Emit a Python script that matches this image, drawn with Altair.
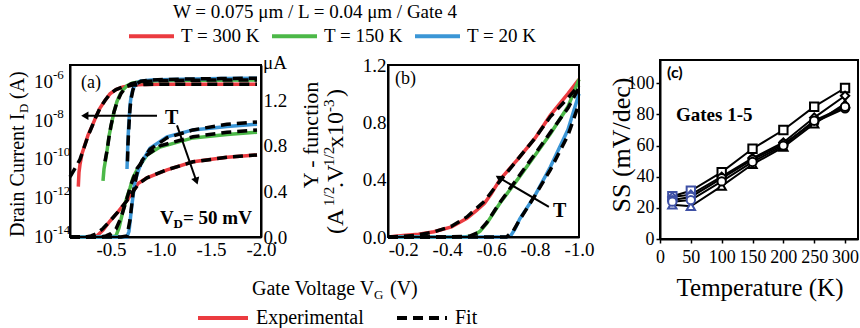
import altair as alt
import pandas as pd

SERIF = "Liberation Serif"
SANS = "Lato"
RED, GREEN, BLUE = "#eb3b40", "#4cb848", "#3b96d6"
NAVY = "#3e50a5"

# ------------------------------------------------------------------ data
TITLE = "W = 0.075 μm / L = 0.04 μm / Gate 4"
T_LABELS = ["T = 300 K", "T = 150 K", "T = 20 K"]
T_COLORS = [RED, GREEN, BLUE]
KIND_LABELS = ["Experimental", "Fit"]

# (a) drain current, log scale (A)
a_log_300_vg = [-0.173, -0.18, -0.19, -0.21, -0.24, -0.27, -0.31, -0.35, -0.39, -0.44, -0.49, -0.55, -0.62, -0.72, -0.82, -1.0, -1.3, -1.6, -1.96]
a_log_300_id = [4.0e-12, 2.2e-11, 5.5e-11, 2.0e-10, 5.9e-10, 1.8e-9, 5.1e-9, 1.6e-8, 4.5e-8, 1.1e-7, 2.4e-7, 4.0e-7, 5.5e-7, 6.8e-7, 7.4e-7, 7.6e-7, 7.6e-7, 7.6e-7, 7.6e-7]
a_log_300_fit_vg = [-0.09, -0.14, -0.19, -0.23, -0.27, -0.31, -0.35, -0.39, -0.44, -0.49, -0.55, -0.62, -0.72, -0.85, -1.2, -1.6, -1.96]
a_log_300_fit_id = [1.26e-11, 3.5e-11, 1.0e-10, 4.0e-10, 1.6e-9, 5.0e-9, 1.6e-8, 4.5e-8, 1.1e-7, 2.4e-7, 4.0e-7, 5.5e-7, 6.8e-7, 7.4e-7, 7.6e-7, 7.6e-7, 7.6e-7]
a_log_150_vg = [-0.42, -0.43, -0.45, -0.46, -0.48, -0.51, -0.53, -0.56, -0.59, -0.62, -0.66, -0.71, -0.8, -1.0, -1.4, -1.96]
a_log_150_id = [7.9e-12, 3.2e-11, 1.26e-10, 2.7e-10, 1.6e-9, 9.1e-9, 2.8e-8, 9.8e-8, 2.2e-7, 3.9e-7, 6.3e-7, 8.5e-7, 1.05e-6, 1.17e-6, 1.23e-6, 1.26e-6]
a_log_150_fit_vg = [-0.44, -0.46, -0.48, -0.5, -0.53, -0.56, -0.6, -0.65, -0.7, -0.8, -1.0, -1.4, -1.96]
a_log_150_fit_id = [7.9e-11, 2.8e-10, 1.4e-9, 5.6e-9, 2.8e-8, 8.9e-8, 2.5e-7, 5.4e-7, 7.9e-7, 1.05e-6, 1.17e-6, 1.23e-6, 1.26e-6]
a_log_20_vg = [-0.66, -0.665, -0.67, -0.68, -0.69, -0.70, -0.72, -0.75, -0.79, -0.9, -1.2, -1.6, -1.96]
a_log_20_id = [3.2e-11, 2.0e-10, 1.26e-9, 1.0e-8, 6.3e-8, 1.6e-7, 4.5e-7, 7.9e-7, 1.07e-6, 1.26e-6, 1.38e-6, 1.48e-6, 1.55e-6]
a_log_20_fit_vg = [-0.665, -0.67, -0.68, -0.69, -0.70, -0.72, -0.75, -0.8, -0.9, -1.2, -1.6, -1.96]
a_log_20_fit_id = [7.9e-11, 6.3e-10, 6.3e-9, 4.0e-8, 1.26e-7, 4.0e-7, 7.6e-7, 1.07e-6, 1.26e-6, 1.38e-6, 1.48e-6, 1.55e-6]

# (a) drain current, linear scale (uA)
a_lin_300_vg = [-0.09, -0.3, -0.36, -0.42, -0.49, -0.57, -0.66, -0.72, -0.77, -0.86, -1.06, -1.32, -1.66, -1.96]
a_lin_300_ua = [0.0, 0.0, 0.01, 0.06, 0.14, 0.22, 0.32, 0.40, 0.47, 0.52, 0.59, 0.66, 0.70, 0.72]
a_lin_300_fit_vg = [-0.09, -0.25, -0.3, -0.36, -0.42, -0.49, -0.57, -0.66, -0.72, -0.78, -0.86, -1.06, -1.32, -1.66, -1.96]
a_lin_300_fit_ua = [0.0, 0.0, 0.01, 0.03, 0.075, 0.14, 0.22, 0.32, 0.40, 0.47, 0.52, 0.59, 0.66, 0.70, 0.72]
a_lin_150_vg = [-0.09, -0.5, -0.55, -0.58, -0.62, -0.66, -0.69, -0.72, -0.76, -0.86, -0.99, -1.32, -1.66, -1.96]
a_lin_150_ua = [0.0, 0.0, 0.01, 0.08, 0.23, 0.35, 0.43, 0.52, 0.59, 0.72, 0.79, 0.87, 0.90, 0.92]
a_lin_150_fit_vg = [-0.09, -0.4, -0.45, -0.5, -0.55, -0.6, -0.65, -0.7, -0.76, -0.86, -0.99, -1.32, -1.66, -1.96]
a_lin_150_fit_ua = [0.0, 0.0, 0.01, 0.03, 0.07, 0.17, 0.31, 0.46, 0.60, 0.72, 0.80, 0.88, 0.92, 0.94]
a_lin_20_vg = [-0.09, -0.66, -0.68, -0.71, -0.74, -0.78, -0.81, -0.89, -1.06, -1.32, -1.66, -1.96]
a_lin_20_ua = [0.0, 0.0, 0.05, 0.29, 0.49, 0.60, 0.66, 0.78, 0.88, 0.94, 0.97, 0.99]
a_lin_20_fit_vg = [-0.09, -0.6, -0.66, -0.69, -0.72, -0.76, -0.81, -0.89, -1.06, -1.32, -1.66, -1.96]
a_lin_20_fit_ua = [0.0, 0.0, 0.01, 0.15, 0.38, 0.56, 0.67, 0.77, 0.87, 0.94, 0.99, 1.01]

# (b) Y-function (A^1/2 V^1/2 x1e-3)
b_300_vg = [-0.131, -0.2, -0.27, -0.34, -0.42, -0.49, -0.53, -0.57, -0.6, -0.64, -0.72, -0.8, -0.87, -0.95, -1.0]
b_300_y = [0.0, 0.01, 0.02, 0.037, 0.07, 0.13, 0.18, 0.235, 0.3, 0.40, 0.54, 0.69, 0.85, 1.0, 1.1]
b_300_fit_vg = [-0.131, -0.25, -0.34, -0.42, -0.49, -0.57, -0.64, -0.72, -0.8, -0.87, -0.95, -1.0]
b_300_fit_y = [0.0, 0.01, 0.035, 0.075, 0.14, 0.25, 0.39, 0.54, 0.69, 0.84, 0.97, 1.06]
b_150_vg = [-0.131, -0.48, -0.52, -0.55, -0.58, -0.64, -0.72, -0.8, -0.87, -0.95, -1.0]
b_150_y = [0.0, 0.0, 0.01, 0.04, 0.095, 0.235, 0.40, 0.57, 0.72, 0.91, 1.10]
b_150_fit_vg = [-0.131, -0.4, -0.5, -0.54, -0.58, -0.64, -0.72, -0.8, -0.87, -0.95, -1.0]
b_150_fit_y = [0.0, 0.0, 0.005, 0.03, 0.1, 0.24, 0.41, 0.58, 0.73, 0.9, 1.04]
b_20_vg = [-0.131, -0.67, -0.69, -0.71, -0.73, -0.8, -0.87, -0.95, -1.0]
b_20_y = [0.0, 0.0, 0.01, 0.06, 0.125, 0.29, 0.49, 0.75, 1.0]
b_20_fit_vg = [-0.131, -0.55, -0.67, -0.7, -0.73, -0.8, -0.87, -0.95, -1.0]
b_20_fit_y = [0.0, 0.0, 0.0, 0.04, 0.12, 0.29, 0.47, 0.71, 0.93]

# (c) subthreshold swing vs temperature, gates 1-5
c_temp = [20, 50, 100, 150, 200, 250, 300]
c_phase = ["low", "low", "high", "high", "high", "high", "high"]
c_gates = ["Gate 1", "Gate 2", "Gate 3", "Gate 4", "Gate 5"]
c_gate_shapes = ["square", "diamond", "circle", "triangle-up", "circle"]
c_ss_gate1 = [27.5, 31, 43, 58, 70, 85, 97]
c_ss_gate2 = [27, 28.5, 40, 52, 62, 78, 92]
c_ss_gate3 = [25, 27, 39, 51, 61, 75, 84]
c_ss_gate4 = [22, 21, 34, 48, 59, 74, 87]
c_ss_gate5 = [24, 25, 37, 49.5, 60, 76, 85]

# tick values / labels
a_x_ticks = [-0.5, -1.0, -1.5, -2.0]
a_x_labels = ["-0.5", "-1.0", "-1.5", "-2.0"]
a_log_ticks = [1e-14, 1e-12, 1e-10, 1e-8, 1e-6]
a_log_exponents = ["-14", "-12", "-10", "-8", "-6"]
a_lin_ticks = [0.0, 0.4, 0.8, 1.2]
a_lin_labels = ["0.0", "0.4", "0.8", "1.2"]
b_x_ticks = [-0.2, -0.4, -0.6, -0.8, -1.0]
b_x_labels = ["-0.2", "-0.4", "-0.6", "-0.8", "-1.0"]
b_y_ticks = [0.0, 0.4, 0.8, 1.2]
b_y_labels = ["0.0", "0.4", "0.8", "1.2"]
c_x_ticks = [0, 50, 100, 150, 200, 250, 300]
c_x_labels = ["0", "50", "100", "150", "200", "250", "300"]
c_y_ticks = [0, 20, 40, 60, 80, 100]
c_y_labels = ["0", "20", "40", "60", "80", "100"]

# annotation arrows (data coordinates of their panels)
a_arrow_h_vg = [-0.96, -0.25]
a_arrow_h_id = [1.8e-8, 1.8e-8]
a_arrow_d_vg = [-1.16, -1.35]
a_arrow_d_ua = [0.98, 0.50]
b_arrow_vg = [-0.863, -0.64]
b_arrow_y = [0.21, 0.41]

# ------------------------------------------------------------------ scales
A_XDOM = [-0.09, -2.0]
A_LOGDOM = [1e-14, 10 ** -5.13]
A_LINDOM = [0.0, 1.51]
B_XDOM = [-0.131, -1.0]
B_YDOM = [0.0, 1.2]
C_XDOM = [0, 321]
C_YDOM = [0, 115]

xa = alt.Scale(domain=A_XDOM, range=[70, 261], nice=False, zero=False)
ya_log = alt.Scale(type="log", domain=A_LOGDOM, range=[237, 65], nice=False)
ya_lin = alt.Scale(domain=A_LINDOM, range=[237, 65], nice=False, zero=False)
xb = alt.Scale(domain=B_XDOM, range=[388, 579], nice=False, zero=False)
yb = alt.Scale(domain=B_YDOM, range=[237, 65], nice=False, zero=False)
xc = alt.Scale(domain=C_XDOM, range=[660, 858], nice=False, zero=False)
yc = alt.Scale(domain=C_YDOM, range=[239, 60], nice=False, zero=False)

W, H = 860, 328


def lab_expr(values, labels):
    parts = [f"abs(datum.value - ({v!r})) < 1e-6 ? '{l}'" for v, l in zip(values, labels)]
    return " : ".join(parts) + " : ''"


def axis(orient, offset, values, labels=None, ticks=False, size=19, pad=3):
    kw = dict(orient=orient, offset=offset, values=values, title=None, grid=False,
              ticks=ticks, tickSize=4, tickColor="black", tickWidth=1.5,
              domainColor="black", domainWidth=2, labelFont=SERIF, labelFontSize=size,
              labelColor="black", labelPadding=pad, labelOverlap=False,
              labelFlush=False, labelBound=False)
    if labels is None:
        kw["labels"] = False
    else:
        kw["labelExpr"] = lab_expr(values, labels)
    return alt.Axis(**kw)


def curve(xs, ys, t, kind):
    return pd.DataFrame({"vg": xs, "v": ys, "T": t, "kind": kind})


T_SCALE = alt.Scale(domain=T_LABELS, range=T_COLORS)


def exp_layer(df, xs, ys, xaxis, yaxis, legend):
    return alt.Chart(df).mark_line(strokeWidth=3.5).encode(
        x=alt.X("vg:Q", scale=xs, axis=xaxis),
        y=alt.Y("v:Q", scale=ys, axis=yaxis),
        color=alt.Color("T:N", scale=T_SCALE, legend=legend),
    )


def fit_layer(df, xs, ys, legend):
    return alt.Chart(df).mark_line(strokeWidth=3.5).encode(
        x=alt.X("vg:Q", scale=xs, axis=None),
        y=alt.Y("v:Q", scale=ys, axis=None),
        detail="T:N",
        color=alt.Color("kind:N", scale=alt.Scale(domain=KIND_LABELS, range=[RED, "black"]), legend=legend),
        strokeDash=alt.StrokeDash("kind:N", scale=alt.Scale(domain=KIND_LABELS, range=[[1, 0], [10, 6]]), legend=legend),
    )


def frame(xs, ys, xd, yd):
    df = pd.DataFrame({"x0": [xd[0]], "x1": [xd[1]], "y0": [yd[0]], "y1": [yd[1]]})
    return alt.Chart(df).mark_rect(fillOpacity=0, stroke="black", strokeWidth=2).encode(
        x=alt.X("x0:Q", scale=xs, axis=None), x2="x1:Q",
        y=alt.Y("y0:Q", scale=ys, axis=None), y2="y1:Q",
    )


def arrow(xs, ys, xv, yv, head_angle):
    df = pd.DataFrame({"x0": [xv[0]], "x1": [xv[1]], "y0": [yv[0]], "y1": [yv[1]]})
    shaft = alt.Chart(df).mark_rule(strokeWidth=2, color="black").encode(
        x=alt.X("x0:Q", scale=xs, axis=None), x2="x1:Q",
        y=alt.Y("y0:Q", scale=ys, axis=None), y2="y1:Q",
    )
    head = alt.Chart(df).mark_point(shape="triangle", angle=head_angle, filled=True,
                                    color="black", opacity=1, size=70).encode(
        x=alt.X("x1:Q", scale=xs, axis=None),
        y=alt.Y("y1:Q", scale=ys, axis=None),
    )
    return [shaft, head]


ONE = pd.DataFrame({"k": [0]})


def txt(s, x, y, size, bold=False, angle=0, align="left", font=SERIF):
    return alt.Chart(ONE).mark_text(
        text=s, align=align, baseline="alphabetic", font=font, fontSize=size,
        fontWeight="bold" if bold else "normal", angle=angle, color="black",
    ).encode(x=alt.value(x), y=alt.value(y))


# ------------------------------------------------------------------ frames of data
a_log_exp = pd.concat([curve(a_log_300_vg, a_log_300_id, T_LABELS[0], "Experimental"),
                       curve(a_log_150_vg, a_log_150_id, T_LABELS[1], "Experimental"),
                       curve(a_log_20_vg, a_log_20_id, T_LABELS[2], "Experimental")])
a_log_fit = pd.concat([curve(a_log_300_fit_vg, a_log_300_fit_id, T_LABELS[0], "Fit"),
                       curve(a_log_150_fit_vg, a_log_150_fit_id, T_LABELS[1], "Fit"),
                       curve(a_log_20_fit_vg, a_log_20_fit_id, T_LABELS[2], "Fit")])
a_lin_exp = pd.concat([curve(a_lin_300_vg, a_lin_300_ua, T_LABELS[0], "Experimental"),
                       curve(a_lin_150_vg, a_lin_150_ua, T_LABELS[1], "Experimental"),
                       curve(a_lin_20_vg, a_lin_20_ua, T_LABELS[2], "Experimental")])
a_lin_fit = pd.concat([curve(a_lin_300_fit_vg, a_lin_300_fit_ua, T_LABELS[0], "Fit"),
                       curve(a_lin_150_fit_vg, a_lin_150_fit_ua, T_LABELS[1], "Fit"),
                       curve(a_lin_20_fit_vg, a_lin_20_fit_ua, T_LABELS[2], "Fit")])
b_exp = pd.concat([curve(b_300_vg, b_300_y, T_LABELS[0], "Experimental"),
                   curve(b_150_vg, b_150_y, T_LABELS[1], "Experimental"),
                   curve(b_20_vg, b_20_y, T_LABELS[2], "Experimental")])
b_fit = pd.concat([curve(b_300_fit_vg, b_300_fit_y, T_LABELS[0], "Fit"),
                   curve(b_150_fit_vg, b_150_fit_y, T_LABELS[1], "Fit"),
                   curve(b_20_fit_vg, b_20_fit_y, T_LABELS[2], "Fit")])
c_df = pd.concat([
    pd.DataFrame({"temp": c_temp, "ss": ss, "gate": g, "phase": c_phase})
    for g, ss in zip(c_gates, [c_ss_gate1, c_ss_gate2, c_ss_gate3, c_ss_gate4, c_ss_gate5])
])
a_log_tick_df = pd.DataFrame({"v": a_log_ticks, "e": a_log_exponents})

# ------------------------------------------------------------------ legends
leg_T = alt.Legend(orient="none", legendX=127, legendY=11.5, direction="horizontal",
                   title=None, symbolType="stroke", symbolSize=2025, symbolStrokeWidth=4,
                   labelFont=SERIF, labelFontSize=19, labelColor="black", labelOffset=5,
                   columnPadding=4, padding=0)
leg_kind = alt.Legend(orient="none", legendX=196, legendY=291, direction="horizontal",
                      title=None, symbolType="stroke", symbolSize=2500, symbolStrokeWidth=4,
                      labelFont=SERIF, labelFontSize=20, labelColor="black", labelOffset=6,
                      columnPadding=25, padding=0)

# ------------------------------------------------------------------ panel (a)
ax_a_x = axis("bottom", -(H - 237), a_x_ticks, a_x_labels)
ax_a_log = axis("left", -70, a_log_ticks)
ax_a_lin = axis("right", 261 - W, a_lin_ticks, a_lin_labels, pad=2)

layers = [
    exp_layer(a_log_exp, xa, ya_log, ax_a_x, ax_a_log, leg_T),
    exp_layer(a_lin_exp, xa, ya_lin, None, ax_a_lin, None),
    fit_layer(a_log_fit, xa, ya_log, leg_kind),
    fit_layer(a_lin_fit, xa, ya_lin, None),
    frame(xa, ya_lin, A_XDOM, A_LINDOM),
    # log tick labels: "10" with a raised exponent
    alt.Chart(a_log_tick_df).mark_text(text="10", align="right", baseline="middle",
                                       font=SERIF, fontSize=19, color="black").encode(
        x=alt.value(53), y=alt.Y("v:Q", scale=ya_log, axis=None)),
    alt.Chart(a_log_tick_df).mark_text(align="left", baseline="middle", dy=-7,
                                       font=SERIF, fontSize=13, color="black").encode(
        x=alt.value(53), y=alt.Y("v:Q", scale=ya_log, axis=None), text="e:N"),
]
layers += arrow(xa, ya_log, a_arrow_h_vg, a_arrow_h_id, 270)
layers += arrow(xa, ya_lin, a_arrow_d_vg, a_arrow_d_ua, 161)

# ------------------------------------------------------------------ panel (b)
ax_b_x = axis("bottom", -(H - 237), b_x_ticks, b_x_labels)
ax_b_y = axis("left", -388, b_y_ticks, b_y_labels, pad=2)
layers += [
    exp_layer(b_exp, xb, yb, ax_b_x, ax_b_y, None),
    fit_layer(b_fit, xb, yb, None),
    frame(xb, yb, B_XDOM, B_YDOM),
]
layers += arrow(xb, yb, b_arrow_vg, b_arrow_y, 301)

# ------------------------------------------------------------------ panel (c)
ax_c_x = axis("bottom", -(H - 239), c_x_ticks, c_x_labels, ticks=True, size=18, pad=5)
ax_c_y = axis("left", -660, c_y_ticks, c_y_labels, ticks=True, size=18, pad=2)
layers += [
    alt.Chart(c_df).mark_line(color="black", strokeWidth=2).encode(
        x=alt.X("temp:Q", scale=xc, axis=ax_c_x),
        y=alt.Y("ss:Q", scale=yc, axis=ax_c_y),
        detail="gate:N",
    ),
    alt.Chart(c_df).mark_point(fill="white", fillOpacity=1, strokeWidth=2, opacity=1, size=70).encode(
        x=alt.X("temp:Q", scale=xc, axis=None),
        y=alt.Y("ss:Q", scale=yc, axis=None),
        shape=alt.Shape("gate:N", scale=alt.Scale(domain=c_gates, range=c_gate_shapes), legend=None),
        stroke=alt.Stroke("phase:N", scale=alt.Scale(domain=["low", "high"], range=[NAVY, "black"]), legend=None),
    ),
    frame(xc, yc, C_XDOM, C_YDOM),
]

# ------------------------------------------------------------------ texts
layers += [
    txt(TITLE, 315, 18, 19, align="center"),
    txt("(a)", 81, 88, 18),
    txt("T", 165, 124, 20, bold=True),
    txt("μA", 263, 69, 19),
    txt("(b)", 395, 84, 18),
    txt("T", 553, 217, 20, bold=True),
    txt("(c)", 667, 78, 16, bold=True, font=SANS),
    txt("Gates 1-5", 676, 121, 19, bold=True),
    txt("Temperature (K)", 760, 296, 25, align="center"),
    txt("SS (mV/dec)", 630, 145, 26, angle=270, align="center"),
    # V_D = 50 mV
    txt("V", 160, 224, 19, bold=True),
    txt("D", 173.5, 228, 13, bold=True),
    txt("= 50 mV", 183, 224, 19, bold=True),
    # Gate Voltage V_G (V)
    txt("Gate Voltage V", 252, 295, 20),
    txt("G", 374, 299, 13),
    txt("(V)", 390, 295, 20),
    # Drain Current I_D (A)
    txt("Drain Current I", 24, 237, 20, angle=270),
    txt("D", 28, 113, 13, angle=270),
    txt("(A)", 24, 99, 20, angle=270),
    # Y - function (A^1/2 .V^1/2 x10^-3)
    txt("Y - function", 318, 135, 22, angle=270, align="center"),
    txt("(A", 343, 234, 24, angle=270),
    txt("1/2", 334, 206, 15, angle=270),
    txt(".V", 343, 188, 24, angle=270),
    txt("1/2", 334, 166, 15, angle=270),
    txt("x10", 343, 148, 24, angle=270),
    txt("-3", 334, 112, 15, angle=270),
    txt(")", 343, 97, 24, angle=270),
]

chart = alt.layer(*layers).resolve_scale(
    x="independent", y="independent", color="independent",
    strokeDash="independent", shape="independent", stroke="independent",
).properties(
    width=W, height=H, autosize=alt.AutoSizeParams(type="none"), padding=0,
).configure_view(stroke=None)

chart.save("out.html", embed_options={"renderer": "svg", "actions": False})
